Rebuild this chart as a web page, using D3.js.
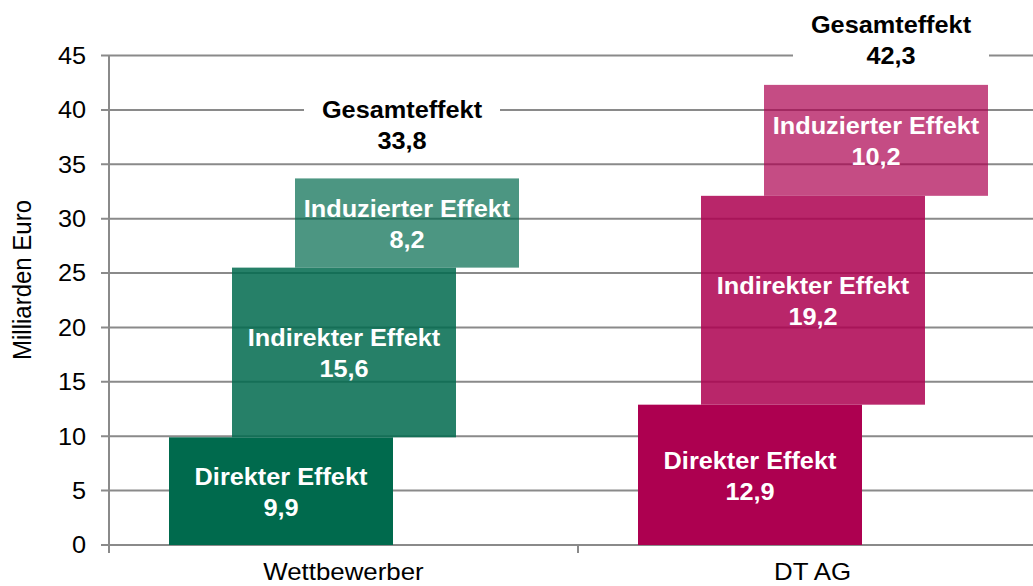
<!DOCTYPE html>
<html>
<head>
  <meta charset="utf-8">
  <title>Gesamteffekt</title>
  <script src="https://d3js.org/d3.v7.min.js"></script>
  <style>
    body { margin: 0; background: #fff; }
    text { font-family: "Liberation Sans", Arial, sans-serif; }
  </style>
</head>
<body>
  <svg id="chart" width="1033" height="586"></svg>

  <script>
    // Daten
    const categories = ["Wettbewerber", "DT AG"];
    const effects = ["Direkter Effekt", "Indirekter Effekt", "Induzierter Effekt"];
    const wettbewerber = [9.9, 15.6, 8.2];
    const dtag = [12.9, 19.2, 10.2];
    const totals = ["33,8", "42,3"];
    const yTicks = [0, 5, 10, 15, 20, 25, 30, 35, 40, 45];
    const baseColors = ["#006a4d", "#ad0050"];
    const effectOpacity = [1, 0.85, 0.7];

    const series = [wettbewerber, dtag];
    const fmt = v => String(v).replace(".", ",");

    const svg = d3.select("#chart");
    const stretch = 1.1; // Schrift im Original leicht breit gezogen

    const x = d3.scaleBand().domain(categories).range([109, 1047]);
    const y = d3.scaleLinear().domain([0, 45]).range([545, 55.5]);

    // Gitterlinien
    svg.append("g").selectAll("line")
      .data(yTicks)
      .enter().append("line")
      .attr("x1", 101).attr("x2", 1033)
      .attr("y1", d => y(d)).attr("y2", d => y(d))
      .attr("stroke", "#8a8a8a").attr("stroke-width", 2);

    // y-Achse
    svg.append("line")
      .attr("x1", 109).attr("x2", 109).attr("y1", y(45)).attr("y2", 553)
      .attr("stroke", "#8a8a8a").attr("stroke-width", 2);

    // Kategorie-Ticks
    svg.append("g").selectAll("line")
      .data(categories.slice(1))
      .enter().append("line")
      .attr("x1", d => x(d)).attr("x2", d => x(d))
      .attr("y1", 545).attr("y2", 553)
      .attr("stroke", "#8a8a8a").attr("stroke-width", 2);

    // Tick-Beschriftungen
    svg.append("g").selectAll("text")
      .data(yTicks)
      .enter().append("text")
      .attr("transform", d => `translate(86,${y(d)}) scale(${stretch},1)`)
      .attr("text-anchor", "end")
      .attr("dy", "0.36em")
      .style("font-size", "23px")
      .attr("fill", "#000")
      .text(d => d);

    svg.append("text")
      .attr("transform", `translate(31,280) scale(${stretch},1) rotate(-90)`)
      .attr("text-anchor", "middle")
      .style("font-size", "24px")
      .text("Milliarden Euro");

    svg.append("g").selectAll("text")
      .data(categories)
      .enter().append("text")
      .attr("transform", d => `translate(${x(d) + x.bandwidth() / 2},580) scale(${stretch},1)`)
      .attr("text-anchor", "middle")
      .style("font-size", "23.5px")
      .text(d => d);

    // Balken (Wasserfall)
    const barW = 224, barStart = 60, barStep = 63;
    const bars = [];
    series.forEach((vals, ci) => {
      let acc = 0;
      vals.forEach((v, ei) => {
        bars.push({ cat: categories[ci], ci, ei, y0: acc, y1: acc + v, v });
        acc += v;
      });
    });

    svg.append("g").selectAll("rect")
      .data(bars)
      .enter().append("rect")
      .attr("x", d => x(d.cat) + barStart + d.ei * barStep)
      .attr("width", barW)
      .attr("y", d => y(d.y1))
      .attr("height", d => y(d.y0) - y(d.y1))
      .attr("fill", d => baseColors[d.ci])
      .attr("fill-opacity", d => effectOpacity[d.ei]);

    const barLabels = svg.append("g").selectAll("g")
      .data(bars)
      .enter().append("g")
      .attr("transform", d => {
        const cx = x(d.cat) + barStart + d.ei * barStep + barW / 2;
        const cy = (y(d.y0) + y(d.y1)) / 2;
        return `translate(${cx},${cy}) scale(${stretch},1)`;
      });
    barLabels.append("text")
      .attr("text-anchor", "middle")
      .attr("y", -6)
      .style("font-size", "23px").style("font-weight", "bold")
      .attr("fill", "#fff")
      .text(d => effects[d.ei]);
    barLabels.append("text")
      .attr("text-anchor", "middle")
      .attr("y", 25)
      .style("font-size", "23px").style("font-weight", "bold")
      .attr("fill", "#fff")
      .text(d => fmt(d.v));

    // Gesamteffekt-Beschriftungen
    const labelDx = [-5, 15];
    const labelDy = [68, 60];
    const totalG = svg.append("g").selectAll("g")
      .data(categories)
      .enter().append("g")
      .attr("transform", (d, i) => {
        const sum = d3.sum(series[i]);
        const cx = x(d) + barStart + 2 * barStep + barW / 2 + labelDx[i];
        return `translate(${cx},${y(sum) - labelDy[i]})`;
      });
    totalG.append("rect")
      .attr("x", -98).attr("width", 196)
      .attr("y", -16).attr("height", 50)
      .attr("fill", "#fff");
    totalG.append("text")
      .attr("transform", `scale(${stretch},1)`)
      .attr("text-anchor", "middle")
      .attr("y", 8)
      .style("font-size", "23px").style("font-weight", "bold")
      .text("Gesamteffekt");
    totalG.append("text")
      .attr("transform", `scale(${stretch},1)`)
      .attr("text-anchor", "middle")
      .attr("y", 39)
      .style("font-size", "23px").style("font-weight", "bold")
      .text((d, i) => totals[i]);
  </script>
</body>
</html>
